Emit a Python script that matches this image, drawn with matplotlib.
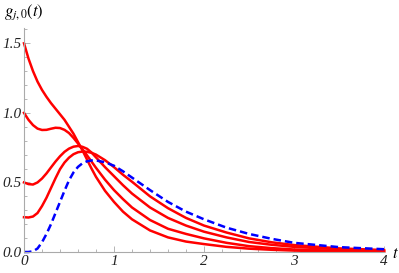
import matplotlib
matplotlib.use("Agg")
import matplotlib.pyplot as plt
from matplotlib.ticker import MultipleLocator, FormatStrFormatter

# t samples
t = [0.0, 0.05, 0.1, 0.15, 0.2, 0.25, 0.3, 0.35, 0.4, 0.45, 0.5, 0.55, 0.6,
     0.65, 0.7, 0.75, 0.8, 0.9, 1.0, 1.1, 1.2, 1.4, 1.6, 1.8, 2.0, 2.25, 2.5,
     2.75, 3.0, 3.5, 4.0]

# red curves (start values 1.5, 1.0, 0.5, 0.25)
g_a = [1.5, 1.39, 1.30, 1.225, 1.165, 1.115, 1.07, 1.03, 0.99, 0.95, 0.90,
       0.85, 0.79, 0.73, 0.665, 0.6, 0.54, 0.44, 0.36, 0.29, 0.235, 0.155,
       0.105, 0.075, 0.057, 0.037, 0.024, 0.016, 0.01, 0.004, 0.002]
g_b = [1.0, 0.95, 0.912, 0.887, 0.877, 0.878, 0.886, 0.893, 0.891, 0.878,
       0.855, 0.82, 0.78, 0.738, 0.695, 0.65, 0.605, 0.52, 0.445, 0.38, 0.32,
       0.23, 0.167, 0.13, 0.098, 0.066, 0.042, 0.028, 0.018, 0.008, 0.004]
g_c = [0.5, 0.488, 0.485, 0.5, 0.528, 0.565, 0.608, 0.65, 0.688, 0.72, 0.743,
       0.757, 0.762, 0.756, 0.742, 0.715, 0.68, 0.61, 0.545, 0.48, 0.42, 0.32,
       0.245, 0.19, 0.146, 0.105, 0.072, 0.052, 0.037, 0.019, 0.01]
g_d = [0.25, 0.248, 0.255, 0.28, 0.33, 0.39, 0.46, 0.53, 0.595, 0.643, 0.678,
       0.703, 0.717, 0.722, 0.72, 0.713, 0.70, 0.66, 0.61, 0.555, 0.505, 0.40,
       0.315, 0.245, 0.19, 0.14, 0.098, 0.07, 0.05, 0.026, 0.014]
red_curves = [g_a, g_b, g_c, g_d]

# blue dashed curve (j = 0)
g_0 = [0.0, 0.0, 0.005, 0.025, 0.07, 0.13, 0.2, 0.28, 0.36, 0.44, 0.515, 0.572,
       0.612, 0.638, 0.652, 0.658, 0.658, 0.645, 0.62, 0.58, 0.535, 0.445,
       0.36, 0.29, 0.235, 0.175, 0.13, 0.095, 0.066, 0.035, 0.02]

plt.rcParams['mathtext.fontset'] = 'stix'

fig = plt.figure(figsize=(3.99, 2.73), dpi=100)
ax = fig.add_axes([24/399, 21/273, 360/399, 224/273])

for g in red_curves:
    ax.plot(t, g, color="#FF0000", lw=1.8, clip_on=False, solid_joinstyle="round")
ax.plot(t, g_0, color="#0000FF", lw=1.8, dashes=(3.0, 1.6), clip_on=False)

ax.set_xlim(0, 4)
ax.set_ylim(0, 1.61)

for side in ["top", "right"]:
    ax.spines[side].set_visible(False)
for side in ["left", "bottom"]:
    ax.spines[side].set_color("#aaaaaa")
    ax.spines[side].set_linewidth(0.8)

ax.xaxis.set_major_locator(MultipleLocator(1))
ax.xaxis.set_minor_locator(MultipleLocator(0.2))
ax.yaxis.set_major_locator(MultipleLocator(0.5))
ax.yaxis.set_minor_locator(MultipleLocator(0.1))
ax.xaxis.set_major_formatter(FormatStrFormatter("%d"))
ax.yaxis.set_major_formatter(FormatStrFormatter("%.1f"))

ax.tick_params(which="both", direction="in", color="#aaaaaa", width=0.6)
ax.tick_params(which="major", length=4, labelsize=11, pad=2, labelcolor="#222222")
ax.tick_params(which="minor", length=2)
for lab in ax.get_xticklabels() + ax.get_yticklabels():
    lab.set_family("Liberation Serif")
    lab.set_style("italic")

fig.text(395/399, 1 - 253/273, r"$t$", fontsize=12, ha="center", va="center")
fig.text(24/399, 1 - 12/273, r"$g_{j,0}(t)$", fontsize=12, ha="center", va="center")

fig.savefig("out.png", dpi=100)
